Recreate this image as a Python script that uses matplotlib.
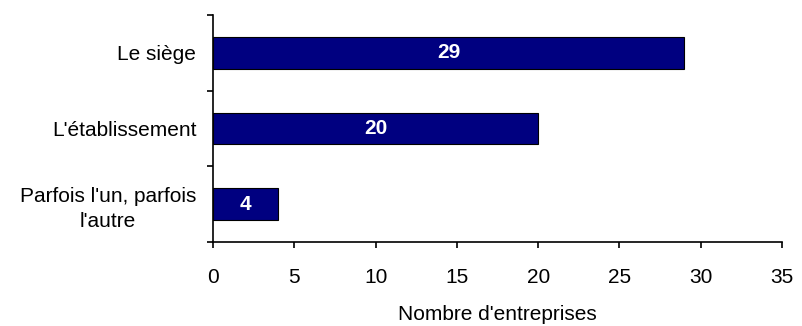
import numpy as np
import matplotlib
matplotlib.use("Agg")
import matplotlib.pyplot as plt

plt.rcParams['font.family'] = ['Liberation Sans', 'DejaVu Sans']

# responses, listed top to bottom
categories = ["Le siège", "L'établissement", "Parfois l'un, parfois\nl'autre"]
counts = [29, 20, 4]
x_ticks = [0, 5, 10, 15, 20, 25, 30, 35]

bar_color = "#000080"


def main():
    fig = plt.figure(figsize=(8.03, 3.26), dpi=100)
    ax = fig.add_axes([0.2653, 0.2577, 0.9738 - 0.2653, 0.954 - 0.2577])

    pos = np.arange(len(categories))
    bars = ax.barh(pos, counts, height=0.42, color=bar_color,
                   edgecolor="black", linewidth=0.8, zorder=2)

    for b, v in zip(bars, counts):
        ax.text(b.get_width() / 2, b.get_y() + b.get_height() / 2, str(v),
                ha="center", va="center", color="white",
                fontsize=15, fontweight="bold")

    ax.set_ylim(len(categories) - 0.5, -0.5)
    ax.set_xlim(0, 35)
    ax.set_xticks(x_ticks)

    # tick marks between categories, labels at the bar centres
    ax.set_yticks(np.arange(len(categories) + 1) - 0.5)
    ax.set_yticklabels([])
    ax.set_yticks(pos, minor=True)
    ax.set_yticklabels(categories, minor=True, multialignment="center",
                       linespacing=1.4)
    ax.tick_params(axis="y", which="minor", length=0, pad=12, labelsize=15)
    ax.tick_params(axis="y", which="major", length=4.5, width=1.2,
                   direction="out")
    ax.tick_params(axis="x", length=4.5, width=1.2, direction="out",
                   pad=14, labelsize=15)

    for side in ("top", "right"):
        ax.spines[side].set_visible(False)
    for side in ("left", "bottom"):
        ax.spines[side].set_linewidth(1.2)

    ax.set_xlabel("Nombre d'entreprises", fontsize=15, labelpad=13)

    fig.savefig("out.png", dpi=100)


if __name__ == "__main__":
    main()
